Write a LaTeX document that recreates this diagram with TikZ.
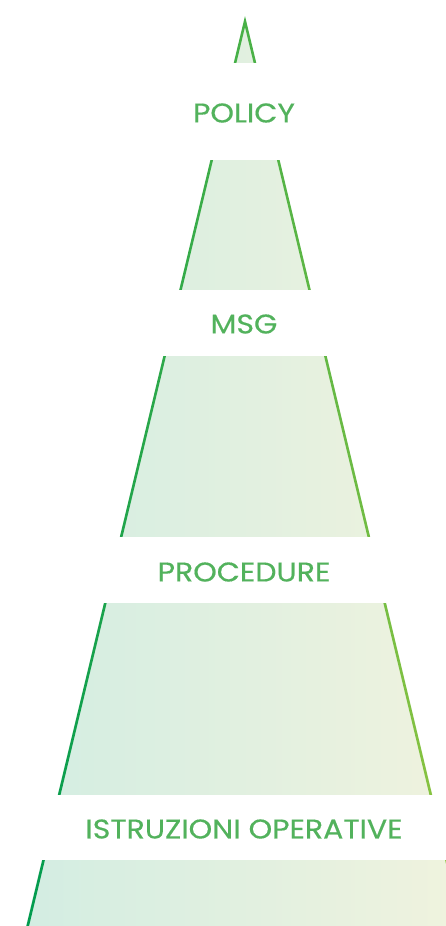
\documentclass[tikz,border=0pt]{standalone}
\usepackage{fontspec}
\setmainfont{Poppins}[FakeBold=0.4]
\definecolor{txtgreen}{RGB}{82,178,92}
\definecolor{fillL}{RGB}{211,237,226}
\definecolor{fillR}{RGB}{240,243,222}
\definecolor{lineL}{RGB}{0,155,78}
\definecolor{lineR}{RGB}{145,198,64}
\newcommand{\wlbl}[1]{\scalebox{1.11}[1.0]{#1}}
\tikzset{
  band/.style={fill=white},
  lbl/.style={text=txtgreen, font=\fontsize{27}{30}\selectfont, inner sep=0pt, anchor=center}
}
\begin{document}
\begin{tikzpicture}[x=1pt,y=-1pt]
\useasboundingbox (0,0) rectangle (446,926);
\clip (0,0) rectangle (446,926);
% pyramid body
\shade[left color=fillL, right color=fillR] (245,18) -- (464,926) -- (26,926) -- cycle;
% outline as thin shaded band
\shade[left color=lineL, right color=lineR, even odd rule]
  (245,16) -- (464.6,930) -- (25.4,930) -- cycle
  (245,27) -- (461.9,930) -- (28.1,930) -- cycle;
% white bands
\fill[band] (0,63) rectangle (446,160);
\fill[band] (0,290) rectangle (446,356);
\fill[band] (0,537) rectangle (446,603);
\fill[band] (0,795) rectangle (446,860);
% labels
\node[lbl] (policy) at (244,113) {\wlbl{POLICY}};
\node[lbl] (msg) at (244,324) {\wlbl{MSG}};
\node[lbl] (procedure) at (244,572) {\wlbl{PROCEDURE}};
\node[lbl] (istruzioni) at (244,829) {\wlbl{ISTRUZIONI OPERATIVE}};
\end{tikzpicture}
\end{document}
